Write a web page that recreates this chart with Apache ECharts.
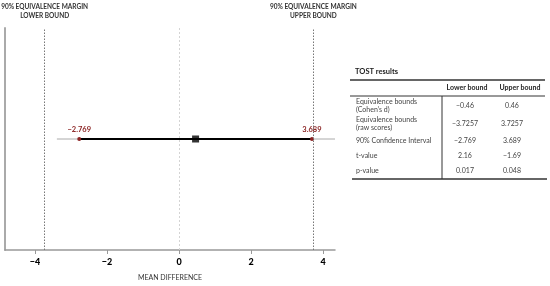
<!DOCTYPE html>
<html>
<head>
<meta charset="utf-8">
<script src="https://cdn.jsdelivr.net/npm/echarts@6/dist/echarts.min.js"></script>
<style>
  html, body { margin: 0; padding: 0; background: #fff; }
  #chart { width: 550px; height: 286px; }
</style>
</head>
<body>
<div id="chart"></div>
<script>
// TOST plot data
const ciLower = -2.769;
const ciUpper = 3.689;
const meanDiff = 0.46;
const eqLower = -3.7257;
const eqUpper = 3.7257;
const refLine = [-3.39, 4.33];   // grey horizontal guide line
const xTicks = [-4, -2, 0, 2, 4];

// table data
const tableTitle = 'TOST results';
const tableHeader = ['Lower bound', 'Upper bound'];
const rowLabels = [
  ['Equivalence bounds', '(Cohen\u2019s d)'],
  ['Equivalence bounds', '(raw scores)'],
  ['90% Confidence Interval'],
  ['t-value'],
  ['p-value']
];
const lowerCol = ['\u22120.46', '\u22123.7257', '\u22122.769', '2.16', '0.017'];
const upperCol = ['0.46', '3.7257', '3.689', '\u22121.69', '0.048'];

const font = 'Lato';
const red = '#8b2323';
const yMid = 0.5;

let chart = echarts.init(document.getElementById('chart'));

// build table graphic
let rowY = [106, 124, 141, 156, 171];
let g = [];
g.push({type: 'text', left: 355, top: 68, style: {text: tableTitle, font: 'bold 7.5px ' + font, fill: '#222'}});
g.push({type: 'line', shape: {x1: 350, y1: 80, x2: 545, y2: 80}, style: {stroke: '#333', lineWidth: 1.5}});
g.push({type: 'text', x: 467, y: 88, style: {text: tableHeader[0], font: 'bold 7px ' + font, fill: '#222', align: 'center', verticalAlign: 'middle'}});
g.push({type: 'text', x: 520, y: 88, style: {text: tableHeader[1], font: 'bold 7px ' + font, fill: '#222', align: 'center', verticalAlign: 'middle'}});
g.push({type: 'line', shape: {x1: 350, y1: 96, x2: 545, y2: 96}, style: {stroke: '#333', lineWidth: 1}});
g.push({type: 'line', shape: {x1: 442, y1: 96, x2: 442, y2: 179}, style: {stroke: '#333', lineWidth: 1}});
g.push({type: 'line', shape: {x1: 352, y1: 179, x2: 547, y2: 179}, style: {stroke: '#333', lineWidth: 1.5}});
rowLabels.forEach((lab, i) => {
  let y = rowY[i];
  if (lab.length === 2) {
    g.push({type: 'text', x: 356, y: y - 4, style: {text: lab[0], font: '7px ' + font, fill: '#444', verticalAlign: 'middle'}});
    g.push({type: 'text', x: 356, y: y + 4, style: {text: lab[1], font: '7px ' + font, fill: '#444', verticalAlign: 'middle'}});
  } else {
    g.push({type: 'text', x: 356, y: y, style: {text: lab[0], font: '7px ' + font, fill: '#444', verticalAlign: 'middle'}});
  }
  g.push({type: 'text', x: 465, y: y, style: {text: lowerCol[i], font: '7px ' + font, fill: '#444', align: 'center', verticalAlign: 'middle'}});
  g.push({type: 'text', x: 512, y: y, style: {text: upperCol[i], font: '7px ' + font, fill: '#444', align: 'center', verticalAlign: 'middle'}});
});

let marginLabel = {
  show: true, position: 'end', distance: 8,
  fontSize: 6.5, fontWeight: 'bold', lineHeight: 9, color: '#333', fontFamily: font, align: 'center'
};

let option = {
  animation: false,
  textStyle: {fontFamily: font},
  grid: {left: 5, right: 215, top: 28, bottom: 34},
  xAxis: {
    type: 'value',
    min: -4.83,
    max: 4.33,
    interval: 2,
    name: 'MEAN DIFFERENCE',
    nameLocation: 'middle',
    nameGap: 24,
    nameTextStyle: {fontSize: 7, color: '#333', fontFamily: font},
    axisLine: {onZero: false, lineStyle: {color: '#999', width: 1.5}},
    axisTick: {show: true, length: 4, lineStyle: {color: '#999'}, customValues: xTicks},
    axisLabel: {
      customValues: xTicks,
      fontSize: 9, fontWeight: 900, color: '#000', margin: 8,
      formatter: v => String(v).replace('-', '\u2212')
    },
    splitLine: {show: false}
  },
  yAxis: {
    type: 'value',
    min: 0,
    max: 1,
    axisLine: {show: true, onZero: false, lineStyle: {color: '#aaa', width: 2}},
    axisTick: {show: false},
    axisLabel: {show: false},
    splitLine: {show: false}
  },
  graphic: g,
  series: [
    {
      // grey guide line
      type: 'line',
      data: refLine.map(x => [x, yMid]),
      symbol: 'none',
      lineStyle: {color: '#aaa', width: 1},
      z: 1,
      markLine: {
        silent: true,
        symbol: 'none',
        data: [
          {xAxis: 0, lineStyle: {color: '#d4d4d4', type: [2, 2], width: 1}, label: {show: false}},
          {xAxis: eqLower, lineStyle: {color: '#777', type: [1.5, 1.5], width: 1},
           label: Object.assign({formatter: '90% EQUIVALENCE MARGIN\nLOWER BOUND'}, marginLabel)},
          {xAxis: eqUpper, lineStyle: {color: '#777', type: [1.5, 1.5], width: 1},
           label: Object.assign({formatter: '90% EQUIVALENCE MARGIN\nUPPER BOUND'}, marginLabel)}
        ]
      }
    },
    {
      // confidence interval
      type: 'line',
      data: [[ciLower, yMid], [ciUpper, yMid]],
      symbol: 'circle',
      symbolSize: 4,
      itemStyle: {color: red},
      lineStyle: {color: '#000', width: 2},
      z: 3,
      label: {
        show: true, position: 'top', distance: 3,
        formatter: p => String(p.value[0]).replace('-', '\u2212'),
        fontSize: 7.5, fontWeight: 'bold', color: red, fontFamily: font
      }
    },
    {
      type: 'scatter',
      data: [[meanDiff, yMid]],
      symbol: 'rect',
      symbolSize: 7,
      itemStyle: {color: '#000'},
      z: 4
    }
  ]
};
chart.setOption(option);
</script>
</body>
</html>
